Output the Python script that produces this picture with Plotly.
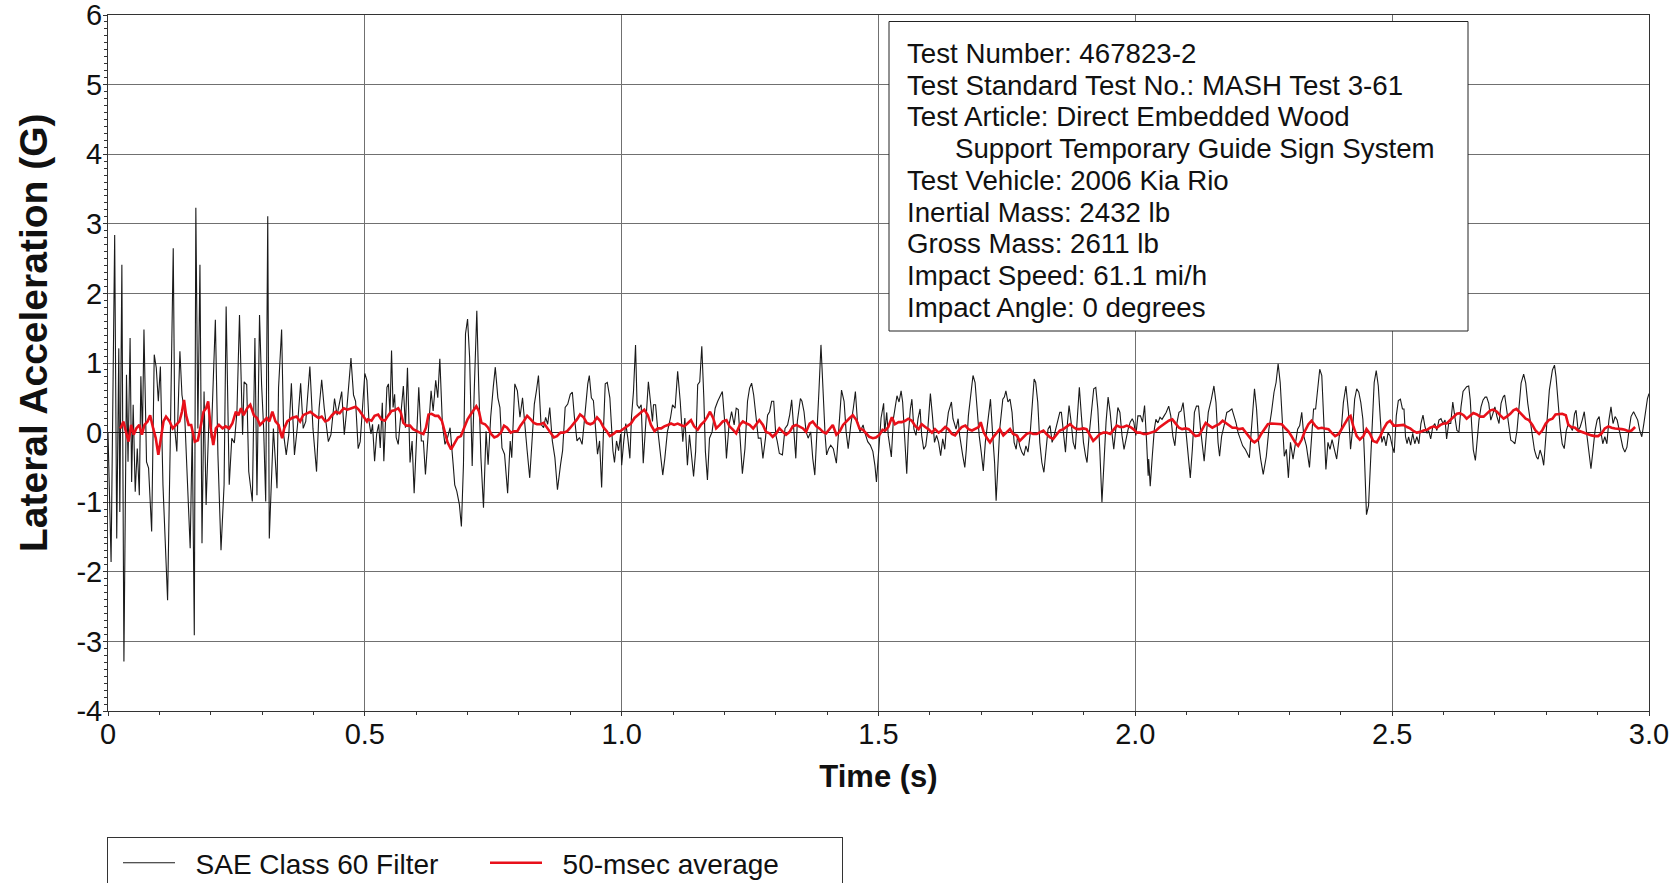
import plotly.graph_objects as go

# ---------------- data ----------------
# SAE Class 60 filtered lateral acceleration: time in ms, value in G
sae_time_ms = [
    0, 6, 13, 17, 21, 23, 27, 31, 36, 39, 43, 46, 49, 53, 57, 61, 64, 67, 70, 75,
    79, 85, 90, 94, 98, 102, 107, 116, 121, 127, 130, 134, 140, 144, 149, 153, 160, 164, 168, 171,
    175, 179, 183, 187, 191, 197, 201, 209, 214, 220, 226, 230, 236, 241, 246, 251, 256, 262, 265, 270,
    274, 281, 286, 290, 295, 299, 303, 307, 311, 314, 318, 322, 329, 332, 338, 342, 347, 352, 357, 363,
    369, 375, 380, 385, 393, 399, 406, 411, 416, 421, 429, 434, 441, 446, 455, 460, 465, 473, 478, 482,
    487, 491, 500,
    504, 508, 512, 515, 519, 523, 527, 530, 534, 537, 543, 546, 549, 552, 555, 558, 561, 565, 570, 575,
    579, 583, 588, 592, 596, 601, 605, 610, 614, 618, 623, 629, 633, 638, 642, 646, 651, 656, 661, 666,
    672, 675, 679, 684, 688, 692, 696, 700, 704, 709, 713, 718, 722, 726, 731, 736, 740, 745, 750, 754,
    759, 763, 767, 772, 778, 783, 786, 792, 797, 802, 807, 812, 816, 821, 826, 830, 834, 838, 843, 848,
    852, 856, 860, 865, 870, 875, 881, 885, 890, 895, 900, 904, 908, 913, 918, 923, 928, 934, 937, 941,
    945, 949, 953, 957, 961, 965, 968, 972, 977, 983, 986, 990, 994, 998,
    1000, 1004, 1008, 1012, 1016, 1019, 1023, 1027, 1030, 1034, 1038, 1042, 1047, 1052, 1056, 1060, 1062, 1066, 1070, 1074,
    1080, 1084, 1089, 1095, 1099, 1104, 1109, 1114, 1119, 1123, 1128, 1132, 1136, 1140, 1144, 1148, 1152, 1156, 1160, 1163,
    1167, 1171, 1176, 1182, 1187, 1192, 1196, 1200, 1204, 1209, 1214, 1219, 1223, 1227, 1231, 1235, 1240, 1245, 1249, 1253,
    1257, 1261, 1266, 1271, 1275, 1280, 1284, 1288, 1292, 1296, 1300, 1303, 1307, 1313, 1318, 1323, 1327, 1331, 1335, 1339,
    1342, 1348, 1351, 1355, 1359, 1363, 1368, 1372, 1376, 1380, 1384, 1388, 1392, 1396, 1399, 1403, 1407, 1412, 1418, 1423,
    1428, 1433, 1437, 1441, 1446, 1451, 1455, 1459, 1464, 1470, 1473, 1479, 1484, 1489, 1493, 1496, 1501, 1505, 1510,
    1512, 1516, 1519, 1525, 1529, 1532, 1536, 1540, 1544, 1547, 1551, 1555, 1558, 1562, 1565, 1569, 1573, 1577, 1581, 1584,
    1588, 1592, 1596, 1601, 1605, 1609, 1613, 1617, 1621, 1625, 1629, 1632, 1636, 1642, 1645, 1651, 1655, 1658, 1664, 1668,
    1671, 1675, 1681, 1684, 1688, 1692, 1696, 1700, 1704, 1708, 1713, 1718, 1722, 1726, 1729, 1732, 1736, 1742, 1745, 1748,
    1752, 1756, 1760, 1764, 1768, 1771, 1775, 1779, 1783, 1787, 1791, 1795, 1799, 1803, 1806, 1810, 1814, 1818, 1822, 1826,
    1830, 1834, 1838, 1842, 1845, 1849, 1853, 1856, 1860, 1864, 1868, 1871, 1875, 1879, 1883, 1887, 1891, 1895, 1899, 1903,
    1906, 1910, 1916, 1919, 1923, 1927, 1931, 1935, 1939, 1943, 1947, 1951, 1955, 1958, 1962, 1966, 1970, 1974, 1978, 1982,
    1986, 1990, 1994, 1997, 2001, 2005, 2010, 2014, 2018, 2022, 2025,
    2026, 2029, 2033, 2037, 2040, 2044, 2048, 2052, 2056, 2060, 2065, 2069, 2073, 2077, 2081, 2085, 2089, 2093, 2097, 2101,
    2104, 2107, 2111, 2115, 2119, 2123, 2127, 2131, 2134, 2138, 2142, 2148, 2153, 2157, 2161, 2164, 2168, 2174, 2178, 2183,
    2188, 2192, 2196, 2200, 2204, 2209, 2214, 2218, 2222, 2226, 2230, 2232, 2236, 2240, 2244, 2249, 2255, 2260, 2265, 2270,
    2274, 2278, 2282, 2286, 2290, 2294, 2298, 2302, 2307, 2312, 2316, 2320, 2324, 2328, 2333, 2339, 2343, 2347, 2351, 2355,
    2359, 2363, 2367, 2371, 2375, 2379, 2383, 2386, 2392, 2397, 2401, 2405, 2410, 2415, 2419, 2423, 2427, 2431, 2435, 2439,
    2443, 2446, 2450, 2454, 2458, 2462, 2465, 2469, 2473, 2477, 2480, 2484, 2488, 2492, 2496, 2500, 2504, 2508, 2512, 2516,
    2520, 2523,
    2526, 2529, 2532, 2536, 2540, 2544, 2548, 2552, 2556, 2560, 2564, 2568, 2571, 2575, 2579, 2583, 2587, 2591, 2595, 2599,
    2603, 2606, 2610, 2614, 2618, 2622, 2626, 2630, 2634, 2638, 2642, 2645, 2649, 2652, 2655, 2658, 2662, 2665, 2669, 2673,
    2677, 2681, 2684, 2688, 2692, 2696, 2700, 2704, 2708, 2712, 2716, 2719, 2723, 2727, 2731, 2735, 2739, 2743, 2747, 2751,
    2756, 2760, 2764, 2769, 2773, 2777, 2781, 2784, 2788, 2792, 2795, 2799, 2803, 2806, 2812, 2816, 2819, 2823, 2827, 2831,
    2835, 2839, 2843, 2847, 2851, 2855, 2858, 2862, 2866, 2870, 2874, 2878, 2882, 2887, 2891, 2895, 2899, 2903, 2906, 2910,
    2914, 2918, 2922, 2926, 2930, 2934, 2938, 2942, 2945, 2949, 2953, 2957, 2961, 2965, 2970, 2974, 2978, 2982, 2986, 2990,
    2994, 2997, 3000,
]
sae_g = [
    0.00, -1.86, 2.84, -1.52, 1.21, -1.14, 2.41, -3.29, 0.83, -0.42, 1.36, -0.71, 0.40, -0.85, -0.23, -0.90, 0.81, -0.03, 1.48, -0.42,
    -0.51, -1.42, 1.12, 0.93, 0.45, 0.95, -0.75, -2.41, -0.23, 2.65, 0.06, -0.27, 1.17, 0.54, 0.30, -0.42, -1.66, 0.06, -2.91, 3.23,
    0.06, 2.41, -1.59, 0.59, -1.04, 0.30, -0.08, 1.62, -0.32, -1.69, -0.75, 1.81, -0.75, -0.08, -0.15, 0.30, 1.69, -0.03, 0.73, 0.69,
    -0.56, -0.99, 1.36, -0.90, 1.69, 0.69, 0.06, -0.99, 3.11, -1.52, -0.80, 0.06, -0.80, 0.64, 1.48, -0.03, -0.32, -0.03, 0.71, -0.32,
    0.11, 0.71, 0.06, 0.16, 0.95, 0.06, -0.56, 0.35, 0.76, 0.35, -0.13, -0.03, 0.49, 0.25, 0.59, -0.03, 0.35, 1.07, 0.54, 0.45,
    -0.23, -0.13, 0.85,
    0.75, 0.17, -0.02, 0.12, -0.41, -0.02, 0.12, -0.22, 0.43, -0.41, 0.65, 0.70, 0.26, 1.18, 0.36, 0.55, -0.07, -0.17, 0.22, 0.67,
    0.07, 0.93, -0.43, -0.12, -0.87, 0.12, 0.65, -0.12, -0.12, -0.60, 0.02, 0.60, 0.31, 0.75, 0.50, 1.06, 0.12, -0.17, -0.07, 0.07,
    -0.46, -0.75, -0.84, -1.03, -1.35, -0.46, 1.42, 1.63, 1.08, -0.48, 0.60, 1.75, 0.60, -0.36, -1.08, 0.02, -0.46, 0.22, 0.65, 0.94,
    0.50, 0.36, -0.22, -0.31, -0.87, -0.12, -0.36, 0.70, 0.60, 0.22, 0.50, 0.02, -0.26, -0.65, 0.02, 0.41, 0.60, 0.82, 0.12, 0.07,
    0.22, 0.12, 0.36, -0.12, -0.36, -0.82, -0.46, -0.26, 0.36, 0.41, 0.55, 0.58, 0.22, -0.12, -0.07, -0.17, 0.22, 0.70, 0.82, 0.50,
    0.46, 0.12, -0.31, -0.12, -0.79, 0.12, 0.70, 0.72, 0.50, -0.26, -0.43, -0.12, -0.26, -0.02,
    -0.47, -0.13, 0.13, -0.08, -0.37, 0.21, 0.59, 1.26, 0.40, 0.35, 0.40, -0.44, 0.21, 0.73, 0.45, 0.16, 0.40, 0.40, 0.06, -0.23,
    -0.61, -0.37, 0.01, 0.21, 0.40, 0.35, 0.88, 0.45, -0.13, 0.21, -0.47, -0.03, -0.37, -0.63, -0.27, 0.69, 0.73, 1.24, 0.49, -0.27,
    -0.68, -0.08, 0.01, 0.35, 0.45, 0.54, 0.59, 0.21, -0.37, 0.11, 0.30, 0.11, 0.35, 0.33, -0.13, -0.59, -0.23, 0.45, 0.64, 0.71,
    0.54, 0.25, -0.08, -0.08, -0.37, -0.08, 0.25, 0.30, 0.45, 0.45, -0.03, -0.13, -0.30, -0.32, 0.06, 0.11, 0.25, 0.47, -0.03, -0.37,
    0.16, 0.49, 0.45, 0.30, 0.01, -0.08, 0.01, -0.37, -0.61, -0.08, 0.59, 1.26, 0.59, -0.03, -0.32, -0.23, -0.18, -0.23, -0.44, 0.11,
    0.61, 0.45, 0.01, -0.23, 0.11, 0.35, 0.59, 0.16, 0.01, 0.11, 0.01, -0.13, -0.18, -0.27, -0.47, -0.71, -0.27, 0.21, 0.42,
    0.00, 0.29, -0.04, -0.35, 0.20, 0.34, 0.53, 0.44, 0.60, 0.44, -0.04, -0.59, -0.04, 0.34, 0.48, 0.05, -0.04, 0.20, 0.34, -0.04,
    -0.24, -0.19, 0.05, 0.56, 0.24, -0.14, -0.04, -0.14, -0.33, -0.09, -0.24, 0.05, 0.29, 0.44, 0.20, 0.05, 0.20, -0.04, -0.33, -0.50,
    -0.24, 0.24, 0.63, 0.82, 0.72, 0.29, -0.04, -0.28, -0.55, -0.14, 0.20, 0.48, 0.00, -0.43, -0.98, -0.43, 0.05, 0.48, 0.51, 0.60,
    0.44, 0.48, 0.29, -0.14, -0.24, -0.04, -0.19, -0.28, -0.33, -0.19, -0.28, -0.04, 0.44, 0.77, 0.72, 0.44, -0.14, -0.43, -0.57, -0.28,
    0.05, 0.10, -0.14, -0.04, 0.05, 0.15, 0.29, 0.29, -0.04, -0.28, 0.15, 0.39, 0.15, -0.14, -0.24, 0.24, 0.65, 0.24, -0.14, -0.33,
    -0.43, -0.04, 0.44, 0.63, 0.65, 0.34, -0.28, -1.00, -0.43, 0.15, 0.51, 0.29, -0.04, -0.24, 0.05, 0.36, 0.29, -0.04, -0.24, -0.09,
    0.05, 0.15, 0.20, 0.15, -0.04, 0.24, 0.24, 0.15, 0.39, -0.14, -0.62,
    -0.38, -0.77, -0.34, 0.05, 0.19, 0.14, 0.22, 0.19, 0.24, 0.29, 0.38, 0.24, -0.05, -0.19, 0.14, 0.29, 0.31, 0.43, 0.14, -0.19,
    -0.48, -0.65, -0.24, 0.29, 0.38, 0.38, 0.05, -0.24, -0.41, -0.05, 0.29, 0.48, 0.67, 0.43, -0.14, -0.34, -0.05, 0.14, 0.29, 0.31,
    0.34, 0.24, 0.14, 0.00, -0.10, -0.19, -0.24, -0.29, -0.36, 0.05, 0.43, 0.63, 0.34, -0.14, -0.38, -0.60, -0.34, 0.05, 0.29, 0.58,
    0.72, 0.99, 0.72, 0.14, -0.34, -0.24, -0.65, -0.14, -0.38, -0.14, 0.05, 0.10, 0.29, -0.05, -0.19, -0.50, -0.05, 0.34, 0.34, 0.67,
    0.91, 0.82, 0.05, -0.53, -0.14, -0.24, -0.10, -0.19, -0.38, -0.05, 0.05, 0.43, 0.67, 0.29, -0.24, 0.05, 0.48, 0.63, 0.58, 0.43,
    0.19, -0.34, -1.18, -1.05, -0.34, 0.43, 0.72, 0.89, 0.67, 0.19, -0.14, -0.05, -0.19, 0.00, -0.05, -0.19, -0.29, 0.24, 0.46, 0.48,
    0.34, 0.34,
    -0.06, -0.16, -0.06, -0.18, -0.01, -0.16, -0.06, -0.16, 0.13, 0.25, 0.08, -0.01, 0.03, -0.09, 0.08, 0.13, 0.03, 0.18, 0.20, 0.13,
    0.18, -0.09, 0.13, 0.13, 0.44, 0.23, 0.03, 0.01, 0.37, 0.59, 0.63, 0.66, 0.67, 0.47, 0.08, -0.25, -0.40, -0.16, 0.18, 0.37,
    0.47, 0.51, 0.51, 0.42, 0.18, 0.27, 0.37, 0.23, 0.13, 0.42, 0.51, 0.54, 0.32, 0.03, -0.11, -0.13, -0.16, 0.03, 0.42, 0.71,
    0.84, 0.71, 0.42, 0.13, -0.06, -0.25, -0.35, -0.38, -0.25, -0.35, -0.47, -0.06, 0.32, 0.61, 0.90, 0.97, 0.80, 0.42, 0.08, -0.16,
    -0.23, 0.03, 0.13, 0.08, 0.03, 0.27, 0.32, 0.03, 0.08, 0.18, 0.30, 0.03, -0.25, -0.52, -0.25, 0.03, 0.18, 0.23, 0.03, -0.16,
    -0.06, -0.16, 0.18, 0.37, 0.13, 0.23, 0.18, 0.03, -0.11, -0.21, -0.28, -0.21, 0.03, 0.23, 0.30, 0.23, 0.18, 0.03, -0.06, 0.13,
    0.32, 0.49, 0.56,
]

# 50-msec moving average: time in ms, value in G
avg_time_ms = [
    24, 30, 35, 40, 45, 50, 55, 61, 66, 71, 77, 82, 88, 93, 98, 103, 108, 113, 120, 126,
    133, 139, 144, 148, 152, 157, 162, 169, 175, 180, 186, 191, 195, 200, 205, 210, 216, 223, 229, 236,
    242, 249, 254, 259, 264, 271, 277, 284, 290, 296, 303, 309, 314, 320, 326, 332, 339, 343, 349, 358,
    367, 374, 380, 388, 394, 402, 410, 416, 423, 429, 436, 443, 451, 459, 466, 474, 482, 488, 496, 504,
    506, 513, 519, 526, 532, 539, 545, 552, 558, 565, 570, 575, 581, 588, 594, 601, 607, 614, 619, 624,
    630, 637, 643, 650, 656, 661, 668, 674, 681, 687, 694, 700, 706, 713, 717, 722, 727, 734, 740, 746,
    752, 758, 765, 771, 777, 784, 790, 797, 803, 810, 816, 823, 829, 835, 842, 848, 855, 861, 868, 874,
    881, 887, 894, 900, 906, 913, 919, 926, 932, 939, 945, 952, 958, 965, 971, 977, 984, 990, 997,
    1005, 1012, 1018, 1025, 1031, 1038, 1044, 1051, 1057, 1064, 1070, 1077, 1083, 1090, 1096, 1102, 1109, 1115, 1122, 1128,
    1135, 1141, 1148, 1154, 1161, 1167, 1172, 1178, 1184, 1191, 1197, 1204, 1210, 1217, 1223, 1230, 1236, 1243, 1249, 1256,
    1262, 1268, 1275, 1281, 1288, 1294, 1301, 1307, 1314, 1320, 1327, 1333, 1340, 1346, 1353, 1359, 1366, 1372, 1379, 1385,
    1392, 1398, 1405, 1411, 1418, 1424, 1431, 1437, 1444, 1450, 1457, 1463, 1470, 1476, 1482, 1489, 1495, 1502, 1508,
    1513, 1519, 1526, 1532, 1539, 1545, 1552, 1558, 1565, 1571, 1578, 1584, 1591, 1597, 1604, 1610, 1617, 1623, 1630, 1636,
    1643, 1649, 1656, 1662, 1669, 1675, 1682, 1688, 1695, 1699, 1705, 1712, 1717, 1723, 1730, 1736, 1743, 1749, 1756, 1762,
    1769, 1775, 1782, 1788, 1795, 1801, 1808, 1814, 1821, 1827, 1834, 1840, 1847, 1853, 1860, 1866, 1873, 1879, 1886, 1892,
    1899, 1905, 1912, 1918, 1925, 1931, 1938, 1944, 1951, 1957, 1964, 1970, 1977, 1983, 1990, 1996, 2003, 2009, 2016, 2022,
    2033, 2039, 2046, 2052, 2059, 2065, 2072, 2078, 2085, 2091, 2098, 2104, 2111, 2117, 2124, 2131, 2137, 2144, 2150, 2157,
    2163, 2170, 2176, 2183, 2189, 2196, 2202, 2209, 2215, 2222, 2228, 2232, 2239, 2245, 2252, 2258, 2265, 2272, 2278, 2285,
    2291, 2298, 2304, 2311, 2317, 2324, 2330, 2337, 2343, 2350, 2356, 2363, 2369, 2376, 2382, 2389, 2396, 2402, 2409, 2415,
    2419, 2424, 2431, 2437, 2444, 2450, 2457, 2463, 2470, 2477, 2483, 2490, 2496, 2503, 2509, 2516, 2522,
    2529, 2535, 2542, 2548, 2555, 2561, 2568, 2574, 2581, 2587, 2594, 2600, 2606, 2613, 2619, 2626, 2632, 2639, 2645, 2652,
    2658, 2665, 2671, 2678, 2684, 2691, 2697, 2704, 2710, 2717, 2723, 2730, 2736, 2742, 2747, 2753, 2760, 2766, 2773, 2779,
    2786, 2792, 2799, 2805, 2812, 2818, 2825, 2831, 2838, 2843, 2849, 2856, 2862, 2869, 2875, 2882, 2888, 2895, 2901, 2908,
    2914, 2921, 2927, 2934, 2940, 2947, 2953, 2960, 2966, 2973,
]
avg_g = [
    0.06, 0.16, 0.01, -0.13, 0.11, -0.03, 0.06, 0.11, -0.03, 0.11, 0.16, 0.25, 0.06, -0.08, -0.32, -0.08, 0.16, 0.23, 0.16, 0.06,
    0.11, 0.16, 0.30, 0.47, 0.25, 0.11, 0.11, -0.13, -0.11, 0.06, 0.30, 0.35, 0.45, 0.06, -0.18, 0.06, 0.11, 0.06, 0.09, 0.06,
    0.13, 0.30, 0.25, 0.35, 0.25, 0.35, 0.40, 0.25, 0.21, 0.11, 0.16, 0.21, 0.16, 0.30, 0.16, 0.11, -0.08, 0.06, 0.16, 0.21,
    0.23, 0.16, 0.25, 0.28, 0.30, 0.25, 0.21, 0.23, 0.16, 0.18, 0.25, 0.30, 0.28, 0.35, 0.33, 0.35, 0.37, 0.33, 0.25, 0.16,
    0.19, 0.17, 0.24, 0.26, 0.19, 0.17, 0.24, 0.31, 0.32, 0.35, 0.29, 0.14, 0.10, 0.10, 0.05, 0.02, 0.00, -0.02, 0.07, 0.26,
    0.27, 0.24, 0.24, 0.17, 0.02, -0.14, -0.24, -0.17, -0.07, -0.05, 0.07, 0.19, 0.26, 0.34, 0.38, 0.31, 0.14, 0.12, 0.07, -0.02,
    -0.07, -0.05, 0.00, 0.10, 0.07, 0.00, 0.02, 0.02, 0.10, 0.17, 0.24, 0.19, 0.14, 0.12, 0.12, 0.14, 0.07, 0.00, -0.07, -0.05,
    0.00, 0.00, 0.02, 0.07, 0.12, 0.19, 0.26, 0.22, 0.14, 0.12, 0.14, 0.22, 0.17, 0.07, 0.02, -0.05, -0.02, 0.02, 0.02,
    0.06, 0.09, 0.13, 0.21, 0.25, 0.30, 0.33, 0.25, 0.11, 0.02, 0.06, 0.06, 0.09, 0.11, 0.13, 0.11, 0.13, 0.11, 0.09, 0.13,
    0.18, 0.09, 0.04, 0.11, 0.16, 0.23, 0.30, 0.21, 0.06, 0.11, 0.16, 0.18, 0.09, 0.04, -0.01, 0.11, 0.16, 0.13, 0.11, 0.06,
    0.13, 0.18, 0.11, 0.01, -0.01, -0.06, -0.01, 0.06, 0.01, -0.03, 0.01, 0.09, 0.11, 0.09, 0.06, 0.01, 0.13, 0.16, 0.09, 0.06,
    0.01, -0.01, 0.06, 0.11, -0.03, 0.01, 0.11, 0.16, 0.21, 0.25, 0.18, 0.06, 0.04, -0.01, -0.06, -0.08, -0.07, -0.03, 0.04,
    0.03, 0.08, 0.22, 0.12, 0.15, 0.15, 0.17, 0.20, 0.17, 0.10, 0.05, 0.12, 0.08, 0.05, 0.00, 0.05, 0.00, 0.03, 0.08, 0.05,
    -0.02, -0.04, 0.03, 0.08, 0.10, 0.05, 0.03, 0.05, 0.08, 0.15, 0.00, -0.09, -0.14, -0.07, 0.00, 0.05, -0.04, 0.00, 0.05, -0.02,
    -0.04, -0.12, -0.07, -0.02, 0.00, -0.02, -0.02, 0.00, 0.03, -0.02, -0.07, -0.09, -0.02, 0.03, 0.05, 0.08, 0.12, 0.08, 0.05, 0.05,
    0.06, 0.05, -0.04, -0.12, -0.07, -0.02, 0.00, 0.00, -0.02, 0.03, 0.10, 0.08, 0.08, 0.10, 0.08, 0.05, 0.00, 0.00, -0.02, -0.02,
    0.00, 0.02, 0.07, 0.10, 0.13, 0.17, 0.19, 0.14, 0.07, 0.05, 0.06, 0.05, 0.00, -0.05, -0.04, 0.05, 0.14, 0.10, 0.07, 0.10,
    0.12, 0.17, 0.14, 0.10, 0.07, 0.07, 0.05, 0.06, 0.00, -0.07, -0.12, -0.14, -0.10, -0.02, 0.05, 0.12, 0.13, 0.13, 0.12, 0.12,
    0.07, 0.02, -0.05, -0.14, -0.19, -0.10, 0.02, 0.12, 0.17, 0.10, 0.06, 0.07, 0.06, 0.05, 0.00, -0.05, -0.02, 0.05, 0.14, 0.22,
    0.24, 0.10, -0.05, -0.10, -0.05, 0.05, -0.02, -0.12, -0.14, -0.05, 0.05, 0.14, 0.17, 0.10, 0.10, 0.11, 0.11,
    0.08, 0.06, 0.02, 0.00, 0.01, 0.03, 0.04, 0.07, 0.09, 0.07, 0.11, 0.13, 0.13, 0.18, 0.23, 0.27, 0.28, 0.25, 0.20, 0.25,
    0.28, 0.26, 0.23, 0.23, 0.27, 0.32, 0.33, 0.30, 0.25, 0.20, 0.23, 0.27, 0.32, 0.34, 0.30, 0.25, 0.20, 0.18, 0.11, 0.03,
    -0.02, 0.03, 0.13, 0.18, 0.20, 0.26, 0.27, 0.27, 0.25, 0.11, 0.08, 0.07, 0.03, 0.01, 0.00, -0.02, -0.04, -0.05, -0.05, -0.01,
    0.06, 0.09, 0.07, 0.06, 0.06, 0.05, 0.04, 0.02, 0.03, 0.08,
]

x_tick_vals = [0, 0.5, 1.0, 1.5, 2.0, 2.5, 3.0]
x_tick_text = ["0", "0.5", "1.0", "1.5", "2.0", "2.5", "3.0"]
y_tick_vals = [-4, -3, -2, -1, 0, 1, 2, 3, 4, 5, 6]
y_tick_text = ["-4", "-3", "-2", "-1", "0", "1", "2", "3", "4", "5", "6"]

info_lines = [
    "Test Number: 467823-2",
    "Test Standard Test No.: MASH Test 3-61",
    "Test Article: Direct Embedded Wood",
    "Support Temporary Guide Sign System",
    "Test Vehicle: 2006 Kia Rio",
    "Inertial Mass: 2432 lb",
    "Gross Mass: 2611 lb",
    "Impact Speed: 61.1 mi/h",
    "Impact Angle: 0 degrees",
]
info_indented = [False, False, False, True, False, False, False, False, False]

series_names = ["SAE Class 60 Filter", "50-msec average"]
LEGEND_PAD = "\u00a0\u00a0"  # visual gap between legend line sample and its label

# ---------------- layout geometry (pixels) ----------------
W, H = 1679, 883
PL, PR, PT, PB = 108, 1649, 15, 711
FONT = "Liberation Sans, Arial, Helvetica, sans-serif"


def px(x):
    return (x - PL) / (PR - PL)


def py(y):
    return (PB - y) / (PB - PT)


fig = go.Figure()
fig.add_trace(go.Scatter(
    x=[t / 1000 for t in sae_time_ms], y=sae_g, mode="lines",
    name=LEGEND_PAD + series_names[0], line=dict(color="#1a1a1a", width=1.1),
))
fig.add_trace(go.Scatter(
    x=[t / 1000 for t in avg_time_ms], y=avg_g, mode="lines",
    name=LEGEND_PAD + series_names[1], line=dict(color="#e8101a", width=2.6),
))

axis_common = dict(
    showline=True, linecolor="#333333", linewidth=1, mirror=True,
    showgrid=True, gridcolor="#707070", gridwidth=1,
    ticks="outside", ticklen=4, tickcolor="#333333", tickwidth=1,
    tickfont=dict(family=FONT, size=29, color="#111111"),
    ticklabeloverflow="allow",
)

fig.update_xaxes(
    range=[0, 3], tickmode="array", tickvals=x_tick_vals, ticktext=x_tick_text,
    zeroline=False, ticklabelstandoff=-7,
    minor=dict(tickmode="linear", tick0=0, dtick=0.1, ticks="outside", ticklen=3,
               tickcolor="#333333", showgrid=False),
    title=dict(text="<b>Time (s)</b>", font=dict(family=FONT, size=31, color="#111111"),
               standoff=16),
    **axis_common,
)
fig.update_yaxes(
    range=[-4, 6], tickmode="array", tickvals=y_tick_vals, ticktext=y_tick_text,
    zeroline=True, zerolinecolor="#222222", zerolinewidth=1, ticklabelstandoff=-5,
    minor=dict(tickmode="linear", tick0=0, dtick=0.1, ticks="outside", ticklen=3,
               tickcolor="#333333", showgrid=False),
    **axis_common,
)

annotations = [
    dict(text="<b>Lateral Acceleration (G)</b>", x=px(33), y=py(333),
         xref="paper", yref="paper", xanchor="center", yanchor="middle",
         textangle=-90, showarrow=False,
         font=dict(family=FONT, size=39, color="#111111")),
]
for i, (line, ind) in enumerate(zip(info_lines, info_indented)):
    annotations.append(dict(
        text=line, x=px(953 if ind else 905), y=py(53.5 + i * 31.7),
        xref="paper", yref="paper", xanchor="left", yanchor="middle",
        showarrow=False, font=dict(family=FONT, size=27.7, color="#111111"),
    ))

shapes = [
    dict(type="rect", xref="paper", yref="paper",
         x0=px(889), x1=px(1468), y0=py(331), y1=py(21.5),
         line=dict(color="#222222", width=1), fillcolor="white", layer="above"),
]

fig.update_layout(
    width=W, height=H,
    margin=dict(l=PL, r=W - PR, t=PT, b=H - PB, autoexpand=False),
    paper_bgcolor="white", plot_bgcolor="white",
    font=dict(family=FONT, color="#111111"),
    showlegend=True,
    legend=dict(orientation="h", x=px(107), xanchor="left", y=py(837), yanchor="top",
                bordercolor="#333333", borderwidth=1, bgcolor="white",
                font=dict(family=FONT, size=28, color="#111111"),
                indentation=10,
                itemwidth=52, entrywidth=290, entrywidthmode="pixels"),
    annotations=annotations, shapes=shapes,
)

fig.write_html("out.html", config={"displayModeBar": False},
               post_script="document.body.style.margin='0';document.body.style.overflow='hidden';")
